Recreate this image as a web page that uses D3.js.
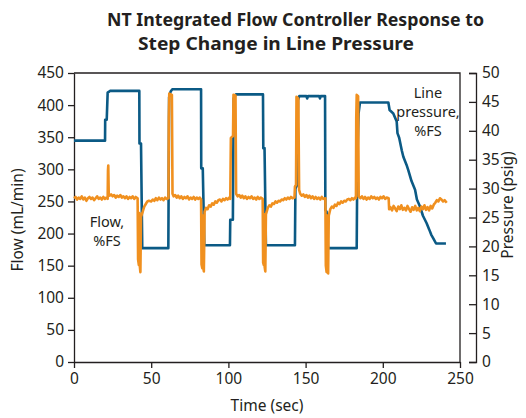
<!DOCTYPE html>
<html>
<head>
  <title>Step Change in Line Pressure</title>
  <script type="text/javascript" src="https://d3js.org/d3.v7.min.js"></script>
  <style type="text/css">
    body {
      margin: 0px;
      background: #fff;
    }
    text {
      font-family: "Noto Sans", sans-serif;
      fill: #231f20;
    }
    .axis path, .axis line {
      stroke: #231f20;
      stroke-width: 1.3px;
    }
  </style>
</head>
<body>
  <svg width="526" height="418"></svg>
  <script type="text/javascript">
    // time (sec), line pressure (psig)
    var pressure = [
      [0,38.3],[20.1,38.3],[20.2,41.9],[21.2,41.9],[21.8,46.6],[23.3,46.9],[42.3,46.9],[42.4,37.8],[43.4,37.8],[44.2,19.7],[61.1,19.7],
      [61.6,45.8],[62.6,46.8],[63.7,47.2],[82.3,47.2],[82.4,33.5],[83.4,33.5],[84.4,20.2],[101.0,20.2],[101.2,24.6],[102.9,24.6],[103.4,45.6],[104.9,46.3],
      [122.4,46.3],[122.6,37.0],[123.4,37.0],[124.3,20.2],[143.1,20.2],[143.4,30.0],[144.3,30.5],[145.1,45.3],[145.9,46.0],[150.5,46.0],[151.0,45.6],[151.6,46.0],
      [158.8,46.0],[159.3,45.6],[159.8,46.0],[162.6,46.0],[162.8,26.3],[163.6,26.0],[164.5,19.7],[183.1,19.7],[183.5,35.0],[184.3,43.0],[185.2,44.9],
      [203.6,44.9],[204.4,43.6],[206.8,43.0],[209.0,41.6],[209.5,39.6],[210.6,38.8],[212.3,36.6],[213.3,35.5],[215.4,34.1],[216.5,33.2],[218.6,31.3],[220.9,29.8],
      [222.1,28.1],[224.1,26.9],[226.0,25.3],[228.4,24.0],[230.1,22.9],[231.4,22.0],[232.7,21.4],[234.5,20.5],[240.9,20.5]
    ];

    // time (sec), flow (mL/min)
    var flow = [
      [0,255],[1,257],[2,253],[3,256],[4,254],[5,258],[6,253],[7,256],[8,251],[9,255],[10,257],[11,254],[12,256],[13,252],[14,255],[15,258],[16,254],[17,256],
      [18,253],[19,257],[20,254],[21,256],[21.8,254],[22.0,298],[22.2,306],[22.5,262],[23,259],[24,261],[25,258],[26,260],[27,256],[28,259],[29,257],[30,260],
      [31,256],[32,258],[33,255],[34,258],[35,254],[36,257],[37,255],[38,258],[39,254],[40,257],[41.2,255],
      [41.5,160],[42.0,151],[42.3,232],[42.6,150],[43.0,140],[43.4,226],[44.5,234],[45.5,242],[46.5,246],[47.5,250],[48.5,251],[50,250],[51,253],[52,251],
      [53,255],[54,252],[55,256],[56,253],[57,255],[58,252],[59,256],[60,254],[61.2,255],
      [61.4,380],[61.7,418],[63.4,416],[63.8,262],[64.5,258],[65.5,260],[66.5,256],[67.5,259],[68.5,255],[69.5,258],[70.5,254],[71.5,257],[72.5,255],[73.5,258],
      [74.5,253],[75.5,256],[76.5,254],[77.5,257],[78.5,253],[79.5,256],[80.5,254],[81.5,256],[82.3,253],
      [82.6,152],[83.1,146],[83.4,228],[83.7,148],[84.1,141],[84.6,234],[85.5,240],[86.5,238],[87.5,244],[88.5,242],[89.5,247],[90.5,245],[91.5,250],[92.5,248],
      [93.5,252],[94.5,253],[95.5,250],[96.5,254],[97.5,252],[98.5,255],[99.5,253],[100.5,256],[101.2,254],
      [101.4,300],[101.6,349],[103.0,352],[103.3,416],[104.6,415],[105.0,262],[106,258],[107,260],[108,256],[109,259],[110,255],[111,258],[112,254],[113,257],
      [114,255],[115,258],[116,254],[117,256],[118,253],[119,257],[120,254],[121,256],[122.2,254],
      [122.5,155],[122.9,151],[123.2,230],[123.5,148],[123.9,141],[124.3,230],[125.5,240],[126.5,244],[127.5,242],[128.5,247],[129.5,246],[130.5,250],[131.5,248],
      [132.5,251],[133.5,250],[134.5,253],[135.5,252],[136.5,255],[137.5,253],[138.5,256],[139.5,254],[140.5,257],[141.5,255],[142.8,256],
      [143.1,273],[143.8,276],[144.1,413],[145.3,410],[145.8,268],[146.5,262],[147.5,259],[148.5,261],[149.5,257],[150.5,260],[151.5,256],[152.5,259],[153.5,255],
      [154.5,258],[155.5,254],[156.5,257],[157.5,254],[158.5,256],[159.5,253],[160.5,257],[161.5,254],[162.8,255],
      [163.1,150],[163.6,140],[163.9,228],[164.2,145],[164.6,138],[165.0,228],[166.0,238],[167.0,242],[168.0,240],[169.0,245],[170.0,243],[171.0,248],[172.0,246],
      [173.0,250],[174.0,248],[175.0,251],[176.0,250],[177.0,253],[178.0,254],[179.0,252],[180.0,255],[181.0,253],[182.0,256],[182.6,255],
      [182.8,380],[183.1,416],[184.0,414],[184.4,258],[185.5,255],[186.5,258],[187.5,254],[188.5,257],[189.5,253],[190.5,256],[191.5,254],[192.5,258],[193.5,255],
      [194.5,257],[195.5,254],[196.5,256],[197.5,253],[198.5,257],[199.5,255],[200.5,258],[201.5,254],[202.5,256],[203.8,255],
      [204.1,238],[205,241],[206,236],[207,243],[208,239],[209,235],[210,242],[211,238],[212,244],[213,237],[214,240],[215,236],[216,243],[217,238],[218,234],
      [219,241],[220,237],[221,243],[222,236],[223,240],[224,235],[225,242],[226,238],[227,244],[228,237],[229,241],[230,236],[231,243],[232,239],[233,245],
      [234,248],[235,252],[236,250],[237,255],[238,253],[239,250],[240,252],[241.4,248]
    ];

    var timeTicks = [0, 50, 100, 150, 200, 250];
    var flowTicks = [0, 50, 100, 150, 200, 250, 300, 350, 400, 450];
    var pressureTicks = [0, 5, 10, 15, 20, 25, 30, 35, 40, 45, 50];

    var titleLines = ["NT Integrated Flow Controller Response to", "Step Change in Line Pressure"];
    var flowNote = ["Flow,", "%FS"];
    var pressureNote = ["Line", "pressure,", "%FS"];

    var svg = d3.select("svg");

    var x = d3.scaleLinear().domain([0, 250]).range([74, 460]);
    var yFlow = d3.scaleLinear().domain([0, 450]).range([362, 73]);
    var yPress = d3.scaleLinear().domain([0, 50]).range([362, 73]);

    // title
    svg.append("text").attr("x", 107).attr("y", 26)
      .attr("textLength", 377).attr("lengthAdjust", "spacingAndGlyphs")
      .style("font-size", "17.5px").style("font-weight", "bold")
      .text(titleLines[0]);
    svg.append("text").attr("x", 138).attr("y", 50)
      .attr("textLength", 276).attr("lengthAdjust", "spacingAndGlyphs")
      .style("font-size", "17.5px").style("font-weight", "bold")
      .text(titleLines[1]);

    // frame top + right
    svg.append("path")
      .attr("d", `M${x(0)},${yFlow(450)}H${x(250)}V${yFlow(0)}`)
      .attr("fill", "none").attr("stroke", "#231f20").attr("stroke-width", 1.3);

    var gx = svg.append("g").attr("class", "axis")
      .attr("transform", `translate(0,${yFlow(0)})`)
      .call(d3.axisBottom(x).tickValues(timeTicks).tickSize(6).tickSizeOuter(0).tickPadding(5));

    var gy = svg.append("g").attr("class", "axis")
      .attr("transform", `translate(${x(0)},0)`)
      .call(d3.axisLeft(yFlow).tickValues(flowTicks).tickSize(6).tickSizeOuter(0).tickPadding(4));

    var gr = svg.append("g").attr("class", "axis")
      .attr("transform", "translate(476,0)")
      .call(d3.axisRight(yPress).tickValues(pressureTicks).tickSizeInner(-7).tickSizeOuter(-7).tickPadding(6));

    svg.selectAll(".axis text").style("font-size", "15.5px").style("font-family", "'Noto Sans', sans-serif").attr("fill", "#231f20");
    svg.selectAll(".axis path").attr("stroke", "#231f20");
    svg.selectAll(".axis line").attr("stroke", "#231f20");

    // axis titles
    svg.append("text").attr("x", 267).attr("y", 411).attr("text-anchor", "middle")
      .style("font-size", "15.5px").text("Time (sec)");
    svg.append("text").attr("transform", "translate(23,220) rotate(-90)").attr("text-anchor", "middle")
      .style("font-size", "15.5px").text("Flow (mL/min)");
    svg.append("text").attr("transform", "translate(513,205) rotate(-90)").attr("text-anchor", "middle")
      .style("font-size", "15.5px").text("Pressure (psig)");

    svg.append("path")
      .datum(pressure)
      .attr("d", d3.line().x(d => x(d[0])).y(d => yPress(d[1])))
      .attr("fill", "none").attr("stroke", "#0b5a85").attr("stroke-width", 2.6)
      .attr("stroke-linejoin", "round");

    svg.append("path")
      .datum(flow)
      .attr("d", d3.line().x(d => x(d[0])).y(d => yFlow(d[1])))
      .attr("fill", "none").attr("stroke", "#f0901f").attr("stroke-width", 2.6)
      .attr("stroke-linejoin", "round");

    // labels on the lines
    svg.selectAll(".flowNote").data(flowNote).enter().append("text")
      .attr("x", 107).attr("y", (d, i) => 227 + i * 18.5)
      .attr("text-anchor", "middle").style("font-size", "14.5px").text(d => d);
    svg.selectAll(".pressNote").data(pressureNote).enter().append("text")
      .attr("x", 428).attr("y", (d, i) => 98 + i * 19)
      .attr("text-anchor", "middle").style("font-size", "14.5px").text(d => d);
  </script>
</body>
</html>
